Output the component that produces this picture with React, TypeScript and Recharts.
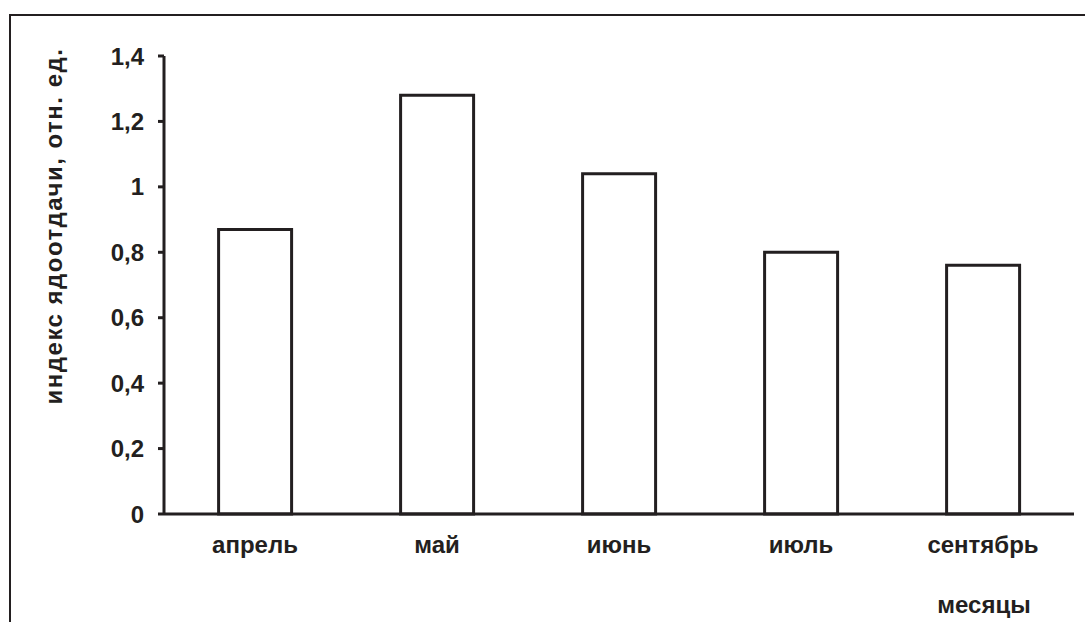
import React from 'react';
import { BarChart, Bar, XAxis, YAxis } from 'recharts';

const months = ['апрель', 'май', 'июнь', 'июль', 'сентябрь'];
const venomIndex = [0.87, 1.28, 1.04, 0.8, 0.76];
const yTicks = [0, 0.2, 0.4, 0.6, 0.8, 1, 1.2, 1.4];

const data = months.map((m, i) => ({ month: m, value: venomIndex[i] }));

const INK = '#231f20';
const FONT = '"Liberation Sans", Arial, sans-serif';

const fmt = (v: number) => String(v).replace('.', ',');

const App: React.FC = () => {
  return (
    <div style={{ position: 'fixed', left: 0, top: 0, width: 1085, height: 622, background: '#fff' }}>
      {/* outer frame, only top and left edges are visible */}
      <div
        style={{
          position: 'absolute',
          left: 9,
          top: 14,
          right: 0,
          bottom: 0,
          borderTop: `2px solid ${INK}`,
          borderLeft: `2px solid ${INK}`,
        }}
      />
      <BarChart
        width={1085}
        height={622}
        data={data}
        margin={{ top: 56, right: 11, left: 10, bottom: 0 }}
        barCategoryGap="30%"
        style={{ position: 'absolute', left: 0, top: 0, fontFamily: FONT }}
      >
        <XAxis
          dataKey="month"
          axisLine={{ stroke: INK, strokeWidth: 3 }}
          tickLine={false}
          tickSize={0}
          tickMargin={22}
          tick={{ fill: INK, fontSize: 24, fontWeight: 'bold', fontFamily: FONT }}
          height={108}
          label={(props: any) => {
            const vb = props.viewBox;
            return (
              <text
                x={vb.x + vb.width - 90}
                y={vb.y + 99}
                textAnchor="middle"
                fill={INK}
                fontSize={24}
                fontWeight="bold"
                fontFamily={FONT}
              >
                месяцы
              </text>
            );
          }}
        />
        <YAxis
          domain={[0, 1.4]}
          ticks={yTicks}
          tickFormatter={fmt}
          width={154}
          axisLine={{ stroke: INK, strokeWidth: 3 }}
          tickLine={{ stroke: INK, strokeWidth: 3 }}
          tickSize={6}
          tickMargin={14}
          tick={{ fill: INK, fontSize: 24, fontWeight: 'bold', fontFamily: FONT }}
          label={(props: any) => {
            const vb = props.viewBox;
            const cx = vb.x + 43;
            const cy = vb.y + vb.height / 2 - 59;
            return (
              <text
                x={cx}
                y={cy}
                transform={`rotate(-90 ${cx} ${cy})`}
                textAnchor="middle"
                dominantBaseline="central"
                fill={INK}
                fontSize={24}
                fontWeight="bold"
                fontFamily={FONT}
                letterSpacing={1.5}
              >
                индекс ядоотдачи, отн. ед.
              </text>
            );
          }}
        />
        <Bar dataKey="value" fill="#fff" stroke={INK} strokeWidth={3} isAnimationActive={false} />
      </BarChart>
    </div>
  );
};

export default App;
